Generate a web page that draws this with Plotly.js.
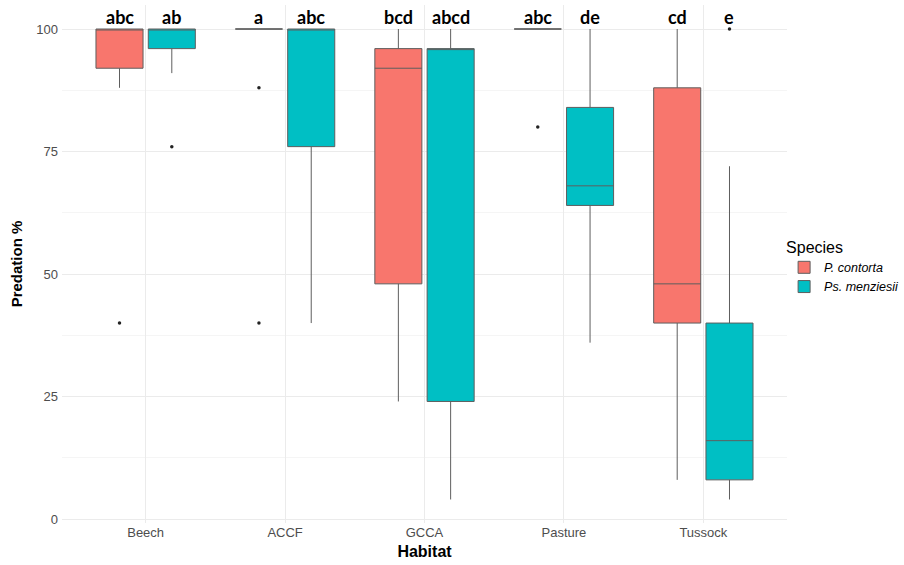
<!DOCTYPE html>
<html>
<head>
<meta charset="utf-8">
<script src="https://cdn.plot.ly/plotly-3.0.1.min.js"></script>
<style>html,body{margin:0;padding:0;background:#fff}#chart{width:904px;height:565px}</style>
</head>
<body>
<div id="chart"></div>
<script>
// ---- data ----
const habitats = ["Beech", "ACCF", "GCCA", "Pasture", "Tussock"];
const speciesNames = ["P. contorta", "Ps. menziesii"];

// P. contorta
const pcQ1     = [92, 100, 48, 100, 40];
const pcMedian = [100, 100, 92, 100, 48];
const pcQ3     = [100, 100, 96, 100, 88];
const pcLow    = [88, 100, 24, 100, 8];
const pcHigh   = [100, 100, 100, 100, 100];
const pcOutliers = [[40], [88, 40], [], [80], []];
const pcLetters = ["abc", "a", "bcd", "abc", "cd"];

// Ps. menziesii
const pmQ1     = [96, 76, 24, 64, 8];
const pmMedian = [100, 100, 96, 68, 16];
const pmQ3     = [100, 100, 96, 84, 40];
const pmLow    = [91, 40, 4, 36, 4];
const pmHigh   = [100, 100, 100, 100, 72];
const pmOutliers = [[76], [], [], [], [100]];
const pmLetters = ["ab", "abc", "abcd", "de", "e"];

const yTicks = [0, 25, 50, 75, 100];

// ---- styling / layout ----
const colors = ["#F8766D", "#00BFC4"];
const dodge = 0.1875;
const boxWidth = 0.3375;
const idx = habitats.map((_, i) => i);

function boxTrace(k, q1, med, q3, lo, hi) {
  const off = k === 0 ? -dodge : dodge;
  return {
    type: "box",
    name: speciesNames[k],
    x: idx.map(i => i + off),
    q1: q1, median: med, q3: q3, lowerfence: lo, upperfence: hi,
    width: boxWidth,
    boxpoints: false,
    whiskerwidth: 0,
    fillcolor: colors[k],
    line: {color: "#5e5e5e", width: 1},
    hoverinfo: "y",
    showlegend: true
  };
}

function outlierTrace(k, outs) {
  const off = k === 0 ? -dodge : dodge;
  const xs = [], ys = [];
  outs.forEach((arr, i) => arr.forEach(v => { xs.push(i + off); ys.push(v); }));
  return {
    type: "scatter", mode: "markers", x: xs, y: ys,
    marker: {color: "#222", size: 3.5},
    showlegend: false, hoverinfo: "y"
  };
}

const traces = [
  boxTrace(0, pcQ1, pcMedian, pcQ3, pcLow, pcHigh),
  boxTrace(1, pmQ1, pmMedian, pmQ3, pmLow, pmHigh),
  outlierTrace(0, pcOutliers),
  outlierTrace(1, pmOutliers)
];

const annotations = [];
[pcLetters, pmLetters].forEach((letters, k) => {
  const off = k === 0 ? -dodge : dodge;
  letters.forEach((t, i) => {
    annotations.push({
      x: i + off, y: 100, xref: "x", yref: "y",
      text: "<b>" + t + "</b>", showarrow: false,
      yanchor: "bottom", xanchor: "center", yshift: -1,
      font: {family: "Lato, 'Open Sans', sans-serif", size: 18, color: "#000"}
    });
  });
});

const layout = {
  width: 904, height: 565,
  margin: {l: 62, r: 117, t: 5, b: 42, pad: 0, autoexpand: false},
  paper_bgcolor: "#fff", plot_bgcolor: "#fff",
  font: {family: "Liberation Sans, Arial, sans-serif", color: "#4d4d4d", size: 13},
  xaxis: {
    range: [-0.6, 4.6],
    tickmode: "array", tickvals: idx, ticktext: habitats,
    showgrid: true, gridcolor: "#ebebeb", gridwidth: 1,
    zeroline: false, showline: false, ticks: "",
    tickfont: {size: 13, color: "#4d4d4d"},
    title: {text: "<b>Habitat</b>", font: {size: 16, color: "#000"}, standoff: 6}
  },
  yaxis: {
    range: [-0.8, 104.9],
    tickmode: "array", tickvals: yTicks,
    showgrid: true, gridcolor: "#ebebeb", gridwidth: 1,
    minor: {tickmode: "array", tickvals: [12.5, 37.5, 62.5, 87.5], showgrid: true, gridcolor: "#f5f5f5", gridwidth: 1, ticks: ""},
    zeroline: false, showline: false, ticks: "",
    ticklabelstandoff: 3,
    tickfont: {size: 13, color: "#4d4d4d"},
    title: {text: "<b>Predation %</b>", font: {size: 15, color: "#000"}, standoff: 10}
  },
  legend: {
    x: 0.996, xanchor: "left", y: 0.562, yanchor: "top",
    title: {text: "Species", font: {size: 16, color: "#000", style: "normal"}},
    font: {size: 12.5, color: "#000", style: "italic"},
    bgcolor: "rgba(0,0,0,0)"
  },
  annotations: annotations,
  showlegend: true
};

Plotly.newPlot("chart", traces, layout, {displayModeBar: false, staticPlot: true});
</script>
</body>
</html>
